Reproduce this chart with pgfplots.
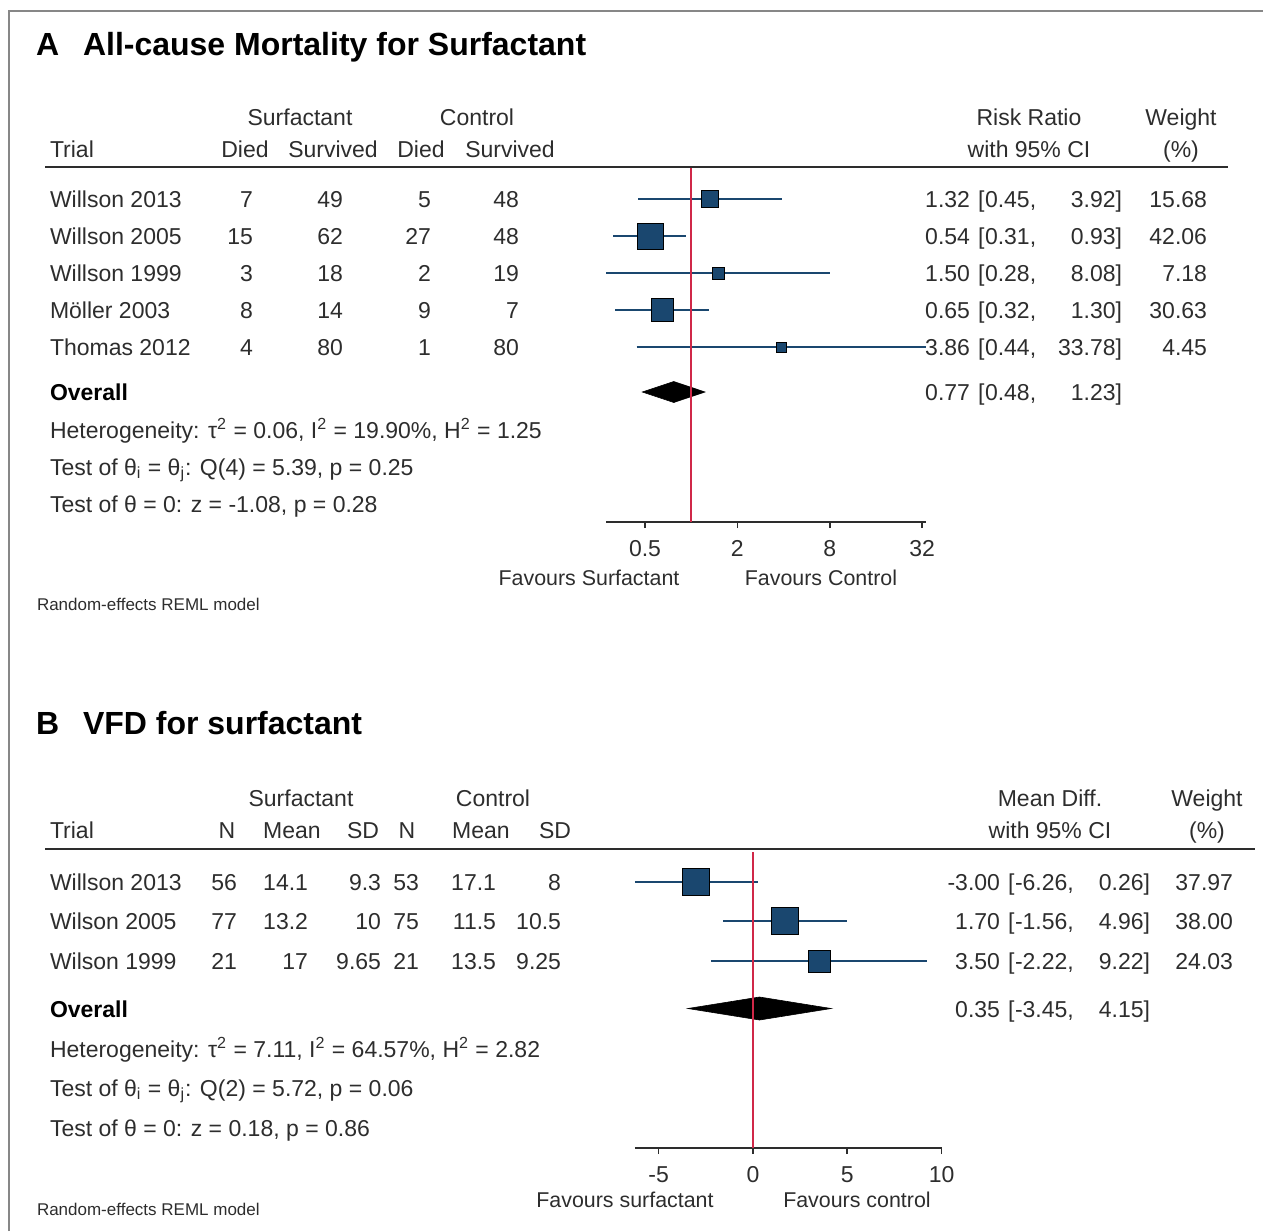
\documentclass[border=0pt]{standalone}
\usepackage{pgfplots}
\pgfplotsset{compat=1.18}
\usepackage{fontspec}
\setmainfont{Liberation Sans}
\definecolor{navy}{RGB}{26,71,111}
\definecolor{refred}{RGB}{208,40,72}
\definecolor{txt}{RGB}{45,45,45}
\definecolor{framegray}{RGB}{135,135,135}
\newcommand\LT[3]{\node[anchor=base west] at (#1,#2) {#3};}
\newcommand\RT[3]{\node[anchor=base east] at (#1,#2) {#3};}
\newcommand\CT[3]{\node[anchor=base] at (#1,#2) {#3};}
\newcommand\FT[3]{\node[anchor=base, font=\fontsize{10.7}{12}\selectfont] at (#1,#2) {#3};}
\newcommand\supx[1]{\textsuperscript{#1}}
\newcommand\subx[1]{\textsubscript{#1}}
% CI text for panel A: y, est, lo, hi, weight
\newcommand\CIA[5]{\RT{970}{#1}{#2}\LT{978}{#1}{[}\LT{985}{#1}{#3,}\RT{1122}{#1}{#4]}\RT{1207}{#1}{#5}}
\newcommand\CIB[5]{\RT{1000}{#1}{#2}\LT{1008}{#1}{[}\LT{1015}{#1}{#3,}\RT{1150}{#1}{#4]}\RT{1233}{#1}{#5}}
\begin{document}
\begin{tikzpicture}
\begin{scope}[x=0.5pt,y=-0.5pt, every node/.style={inner sep=0pt, outer sep=0pt, text=txt, font=\fontsize{11.5}{13}\selectfont}]
\path[use as bounding box] (0,0) rectangle (1263,1231);
\draw[framegray, line width=1pt] (9,1231) -- (9,11) -- (1263,11);
% ---------- Panel A ----------
\node[anchor=base west, text=black, font=\fontsize{16}{18}\selectfont\bfseries] at (36,55) {A};
\node[anchor=base west, text=black, font=\fontsize{16}{18}\selectfont\bfseries] at (83,55) {All-cause Mortality for Surfactant};
\CT{300}{125}{Surfactant}\CT{477}{125}{Control}\CT{1029}{125}{Risk Ratio}\CT{1181}{125}{Weight}
\LT{50}{157}{Trial}\CT{245}{157}{Died}\CT{333}{157}{Survived}\CT{421}{157}{Died}\CT{510}{157}{Survived}
\CT{1029}{157}{with 95\% CI}\CT{1181}{157}{(\%)}
\draw[txt, line width=1pt] (45,167) -- (1228,167);
% rows
\LT{50}{207}{Willson 2013}\RT{253}{207}{7}\RT{343}{207}{49}\RT{431}{207}{5}\RT{519}{207}{48}
\CIA{207}{1.32}{0.45}{3.92}{15.68}
\LT{50}{244}{Willson 2005}\RT{253}{244}{15}\RT{343}{244}{62}\RT{431}{244}{27}\RT{519}{244}{48}
\CIA{244}{0.54}{0.31}{0.93}{42.06}
\LT{50}{281}{Willson 1999}\RT{253}{281}{3}\RT{343}{281}{18}\RT{431}{281}{2}\RT{519}{281}{19}
\CIA{281}{1.50}{0.28}{8.08}{7.18}
\LT{50}{318}{Möller 2003}\RT{253}{318}{8}\RT{343}{318}{14}\RT{431}{318}{9}\RT{519}{318}{7}
\CIA{318}{0.65}{0.32}{1.30}{30.63}
\LT{50}{355}{Thomas 2012}\RT{253}{355}{4}\RT{343}{355}{80}\RT{431}{355}{1}\RT{519}{355}{80}
\CIA{355}{3.86}{0.44}{33.78}{4.45}
\node[anchor=base west, text=black, font=\fontsize{11.5}{13}\selectfont\bfseries] at (50,400) {Overall};
\CIA{400}{0.77}{0.48}{1.23}{}
\LT{50}{438}{Heterogeneity: τ\supx{2} = 0.06, I\supx{2} = 19.90\%, H\supx{2} = 1.25}
\LT{50}{475}{Test of θ\subx{i} = θ\subx{j}: Q(4) = 5.39, p = 0.25}
\LT{50}{512}{Test of θ = 0: z = -1.08, p = 0.28}
\FT{589}{585}{Favours Surfactant}\FT{821}{585}{Favours Control}
\node[anchor=base west, font=\fontsize{8.5}{10}\selectfont] at (37,610) {Random-effects REML model};
% ---------- Panel B ----------
\node[anchor=base west, text=black, font=\fontsize{16}{18}\selectfont\bfseries] at (36,734) {B};
\node[anchor=base west, text=black, font=\fontsize{16}{18}\selectfont\bfseries] at (83,734) {VFD for surfactant};
\CT{301}{806}{Surfactant}\CT{493}{806}{Control}\CT{1050}{806}{Mean Diff.}\CT{1207}{806}{Weight}
\LT{50}{838}{Trial}\CT{227}{838}{N}\CT{292}{838}{Mean}\CT{363}{838}{SD}\CT{407}{838}{N}\CT{481}{838}{Mean}\CT{555}{838}{SD}
\CT{1050}{838}{with 95\% CI}\CT{1207}{838}{(\%)}
\draw[txt, line width=1pt] (45,849) -- (1255,849);
\LT{50}{890}{Willson 2013}\RT{237}{890}{56}\RT{308}{890}{14.1}\RT{381}{890}{9.3}\RT{419}{890}{53}\RT{496}{890}{17.1}\RT{561}{890}{8}
\CIB{890}{-3.00}{-6.26}{0.26}{37.97}
\LT{50}{929}{Wilson 2005}\RT{237}{929}{77}\RT{308}{929}{13.2}\RT{381}{929}{10}\RT{419}{929}{75}\RT{496}{929}{11.5}\RT{561}{929}{10.5}
\CIB{929}{1.70}{-1.56}{4.96}{38.00}
\LT{50}{969}{Wilson 1999}\RT{237}{969}{21}\RT{308}{969}{17}\RT{381}{969}{9.65}\RT{419}{969}{21}\RT{496}{969}{13.5}\RT{561}{969}{9.25}
\CIB{969}{3.50}{-2.22}{9.22}{24.03}
\node[anchor=base west, text=black, font=\fontsize{11.5}{13}\selectfont\bfseries] at (50,1017) {Overall};
\CIB{1017}{0.35}{-3.45}{4.15}{}
\LT{50}{1057}{Heterogeneity: τ\supx{2} = 7.11, I\supx{2} = 64.57\%, H\supx{2} = 2.82}
\LT{50}{1096}{Test of θ\subx{i} = θ\subx{j}: Q(2) = 5.72, p = 0.06}
\LT{50}{1136}{Test of θ = 0: z = 0.18, p = 0.86}
\FT{625}{1207}{Favours surfactant}\FT{857}{1207}{Favours control}
\node[anchor=base west, font=\fontsize{8.5}{10}\selectfont] at (37,1215) {Random-effects REML model};
\end{scope}
% ---------- Axis A ----------
\begin{axis}[
  at={(303.2pt,-261pt)}, anchor=south west,
  scale only axis, width=159.65pt, height=177pt,
  xmode=log, log basis x=2, xmin=0.28, xmax=33.78,
  ymin=-522, ymax=-168, enlargelimits=false,
  axis x line=bottom, axis y line=none, x axis line style={-, line width=0.8pt, color=txt},
  xtick={0.5,2,8,32}, xticklabels={0.5,2,8,32}, ytick=\empty,
  tick align=outside, major tick length=3pt, xtick style={line width=0.8pt, color=txt},
  xticklabel style={font=\fontsize{11.5}{13}\selectfont, text=txt, anchor=base, inner sep=0pt, yshift=-14pt},
  clip=false,
]
\addplot[navy, line width=0.8pt] coordinates {(0.45,-199) (3.92,-199)};
\addplot[navy, line width=0.8pt] coordinates {(0.31,-236) (0.93,-236)};
\addplot[navy, line width=0.8pt] coordinates {(0.28,-273) (8.08,-273)};
\addplot[navy, line width=0.8pt] coordinates {(0.32,-310) (1.30,-310)};
\addplot[navy, line width=0.8pt] coordinates {(0.44,-347) (33.78,-347)};
\addplot[only marks, mark=square*, mark size=4.1pt, mark options={fill=navy, draw=none}] coordinates {(1.32,-199)};
\addplot[only marks, mark=square*, mark size=6.5pt, mark options={fill=navy, draw=none}] coordinates {(0.54,-236)};
\addplot[only marks, mark=square*, mark size=3.0pt, mark options={fill=navy, draw=none}] coordinates {(1.50,-273)};
\addplot[only marks, mark=square*, mark size=5.6pt, mark options={fill=navy, draw=none}] coordinates {(0.65,-310)};
\addplot[only marks, mark=square*, mark size=2.5pt, mark options={fill=navy, draw=none}] coordinates {(3.86,-347)};
\addplot[fill=black, draw=black, line width=0.3pt] coordinates {(0.48,-392) (0.77,-381.5) (1.23,-392) (0.77,-402.5)} -- cycle;
\addplot[refred, line width=0.8pt] coordinates {(1,-168) (1,-522)};
\end{axis}
% ---------- Axis B ----------
\begin{axis}[
  at={(317.4pt,-574pt)}, anchor=south west,
  scale only axis, width=153.4pt, height=149pt,
  xmin=-6.26, xmax=10,
  ymin=-1148, ymax=-850, enlargelimits=false,
  axis x line=bottom, axis y line=none, x axis line style={-, line width=0.8pt, color=txt},
  xtick={-5,0,5,10}, xticklabels={-5,0,5,10}, ytick=\empty,
  tick align=outside, major tick length=3pt, xtick style={line width=0.8pt, color=txt},
  xticklabel style={font=\fontsize{11.5}{13}\selectfont, text=txt, anchor=base, inner sep=0pt, yshift=-14pt},
  clip=false,
]
\addplot[navy, line width=0.8pt] coordinates {(-6.26,-882) (0.26,-882)};
\addplot[navy, line width=0.8pt] coordinates {(-1.56,-921) (4.96,-921)};
\addplot[navy, line width=0.8pt] coordinates {(-2.22,-961) (9.22,-961)};
\addplot[only marks, mark=square*, mark size=6.75pt, mark options={fill=navy, draw=none}] coordinates {(-3.00,-882)};
\addplot[only marks, mark=square*, mark size=6.75pt, mark options={fill=navy, draw=none}] coordinates {(1.70,-921)};
\addplot[only marks, mark=square*, mark size=5.5pt, mark options={fill=navy, draw=none}] coordinates {(3.50,-961)};
\addplot[fill=black, draw=black, line width=0.3pt] coordinates {(-3.45,-1008.5) (0.35,-997) (4.15,-1008.5) (0.35,-1020)} -- cycle;
\addplot[refred, line width=0.8pt] coordinates {(0,-852) (0,-1148)};
\end{axis}
\end{tikzpicture}
\end{document}
